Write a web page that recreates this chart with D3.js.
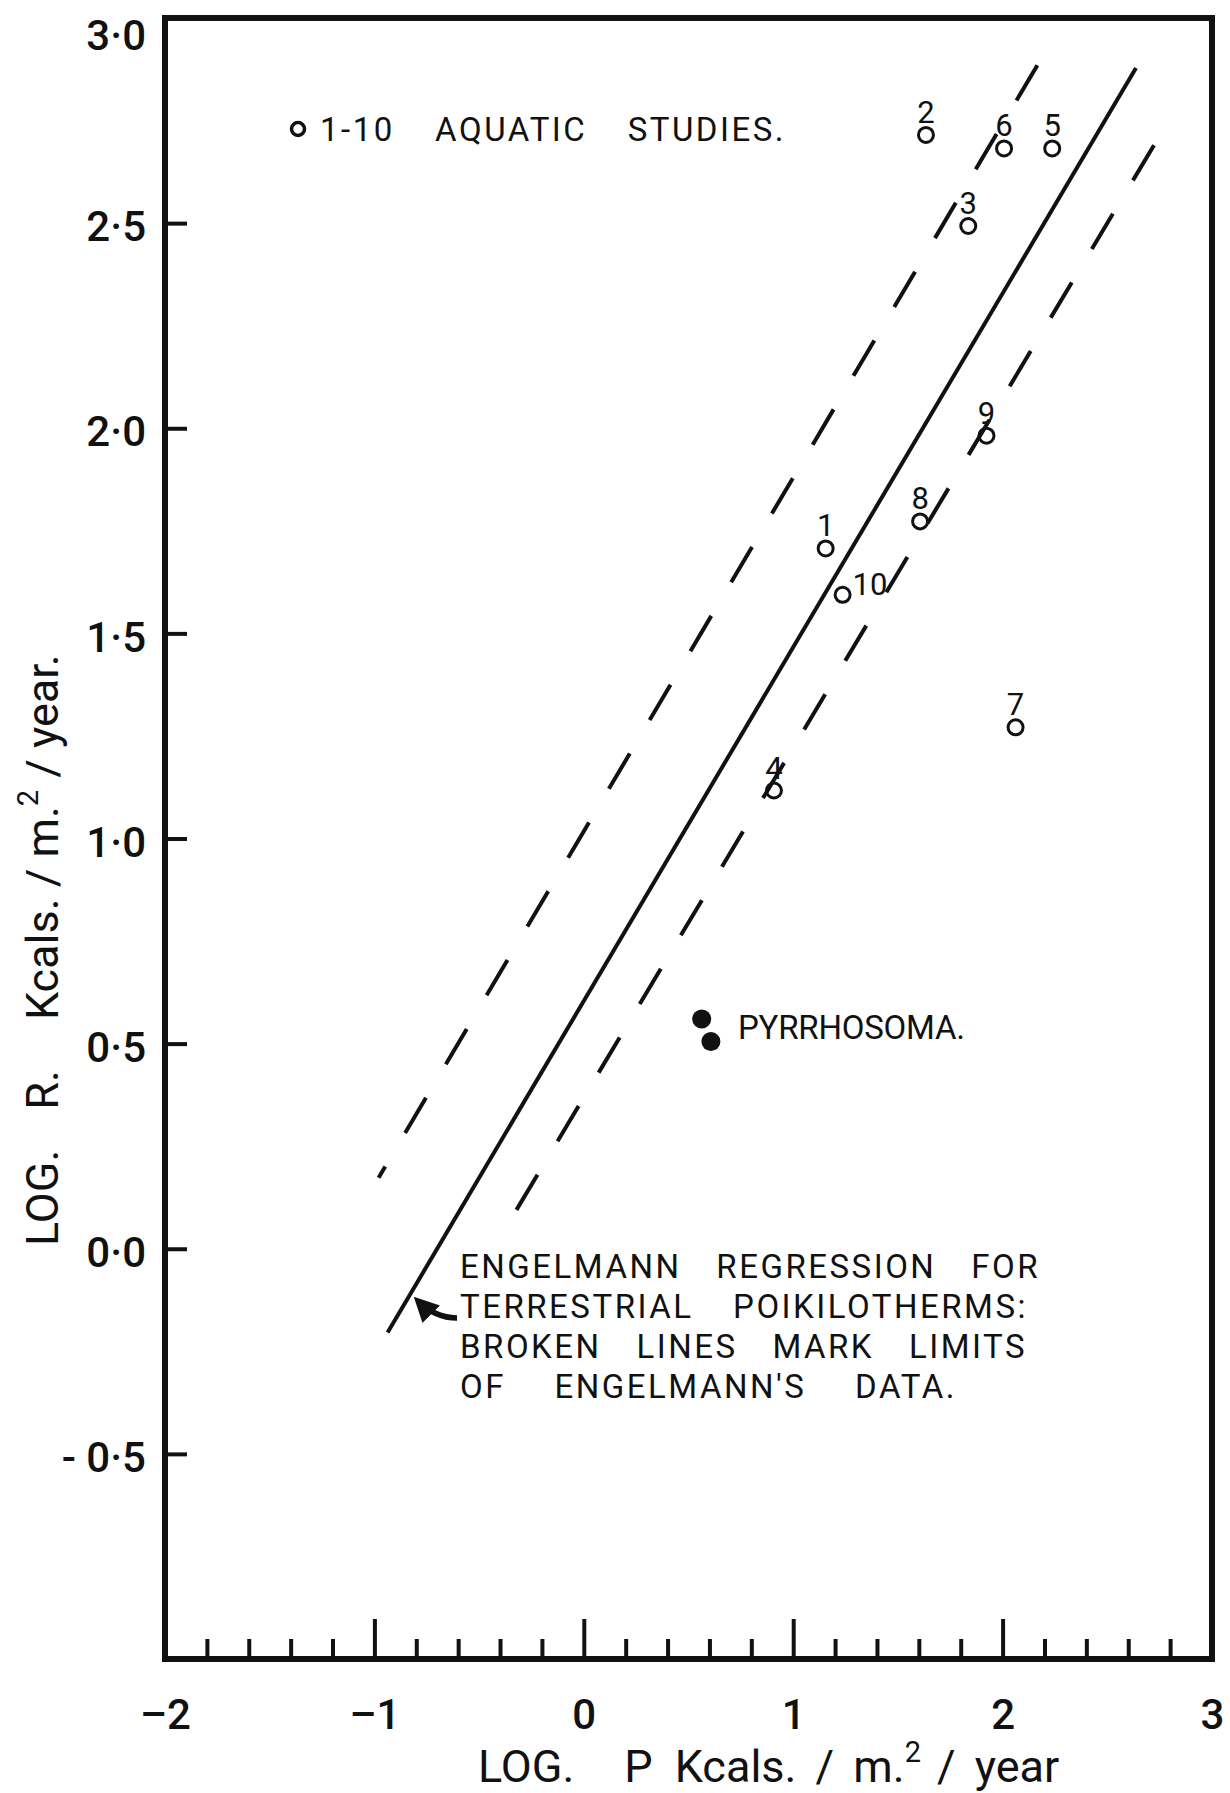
<!DOCTYPE html>
<html>
<head>
<meta charset="utf-8">
<script src="https://cdn.jsdelivr.net/npm/d3@7"></script>
<style>
  body { margin: 0; background: #fff; }
  svg text { font-family: Roboto, "DejaVu Sans", sans-serif; fill: #111; }
</style>
</head>
<body>
<div id="chart"></div>
<script>
// aquatic studies 1-10 (log P, log R in Kcals / m2 / year)
const studyIds = [1, 2, 3, 4, 5, 6, 7, 8, 9, 10];
const studyLogP = [1.155, 1.634, 1.836, 0.908, 2.237, 2.007, 2.062, 1.606, 1.923, 1.236];
const studyLogR = [1.707, 2.715, 2.493, 1.117, 2.682, 2.682, 1.271, 1.773, 1.982, 1.594];

// Pyrrhosoma
const pyrrhosomaLogP = [0.563, 0.607];
const pyrrhosomaLogR = [0.560, 0.505];

// Engelmann regression + limits of his data, end points [logP, logR]
const regressionLine = [[-0.937, -0.204], [2.637, 2.878]];
const upperLimit = [[-0.98, 0.173], [2.166, 2.885]];
const lowerLimit = [[-0.414, 0.016], [2.723, 2.690]];

const xTicks = [-2, -1, 0, 1, 2, 3];
const yTicks = [-0.5, 0, 0.5, 1, 1.5, 2, 2.5, 3];

const legendWords = ["1-10", "AQUATIC", "STUDIES."];
const noteLines = [
    ["ENGELMANN", "REGRESSION", "FOR"],
    ["TERRESTRIAL", "POIKILOTHERMS:"],
    ["BROKEN", "LINES", "MARK", "LIMITS"],
    ["OF", "ENGELMANN'S", "DATA."]
];

const width = 1230, height = 1793;
const ink = "#111";

const svg = d3.select("#chart").append("svg")
    .attr("width", width)
    .attr("height", height)
    .style("background", "#fff");

const x = d3.scaleLinear().domain([-2, 3]).range([165, 1212]);
const y = d3.scaleLinear().domain([-1, 3]).range([1659, 18]);

// axes
const minorTicks = x.ticks(25).filter(d => Math.abs(d - Math.round(d)) > 1e-6);

const xMinor = svg.append("g")
    .attr("transform", `translate(0,${y(-1)})`)
    .call(d3.axisBottom(x).tickValues(minorTicks).tickSize(-20).tickFormat(""));

const xMajor = svg.append("g")
    .attr("transform", `translate(0,${y(-1)})`)
    .call(d3.axisBottom(x).tickValues(xTicks).tickSize(-40).tickPadding(40)
        .tickFormat(d => d < 0 ? "\u2013" + Math.abs(d) : d));

const fmtY = v => {
    const s = Math.abs(v).toFixed(1).replace(".", "\u00b7");
    return v < 0 ? "- " + s : s;
};
const yAxis = svg.append("g")
    .attr("transform", `translate(${x(-2)},0)`)
    .call(d3.axisLeft(y).tickValues(yTicks).tickSize(-22).tickPadding(19).tickFormat(fmtY));

[xMinor, xMajor, yAxis].forEach(g => {
    g.select(".domain").remove();
    g.selectAll(".tick line").attr("stroke", ink).attr("stroke-width", 4);
    g.selectAll(".tick text")
        .attr("fill", ink)
        .style("font-family", "Roboto, sans-serif")
        .style("font-size", "42px")
        .style("font-weight", 500);
});
yAxis.selectAll(".tick text").attr("dy", d => d === 3 ? "0.75em" : "0.42em");

// frame
svg.append("rect")
    .attr("x", x(-2))
    .attr("y", y(3))
    .attr("width", x(3) - x(-2))
    .attr("height", y(-1) - y(3))
    .attr("fill", "none")
    .attr("stroke", ink)
    .attr("stroke-width", 6);

// regression lines
const line = d3.line().x(d => x(d[0])).y(d => y(d[1]));

svg.append("path")
    .attr("d", line(regressionLine))
    .attr("fill", "none")
    .attr("stroke", ink)
    .attr("stroke-width", 4);

[upperLimit, lowerLimit].forEach(pts => {
    // draw from the top end so the dash pattern starts there
    svg.append("path")
        .attr("d", line(pts.slice().reverse()))
        .attr("fill", "none")
        .attr("stroke", ink)
        .attr("stroke-width", 4)
        .attr("stroke-dasharray", "41,39");
});

// aquatic study points
const studies = studyIds.map((id, i) => ({ id: id, p: studyLogP[i], r: studyLogR[i] }));

svg.append("g").selectAll("circle")
    .data(studies)
    .enter().append("circle")
    .attr("cx", d => x(d.p))
    .attr("cy", d => y(d.r))
    .attr("r", 7.5)
    .attr("fill", "none")
    .attr("stroke", ink)
    .attr("stroke-width", 3);

svg.append("g").selectAll("text")
    .data(studies)
    .enter().append("text")
    .attr("x", d => d.id === 10 ? x(d.p) + 10 : x(d.p))
    .attr("y", d => d.id === 10 ? y(d.r) + 0 : y(d.r) - 12)
    .attr("text-anchor", d => d.id === 10 ? "start" : "middle")
    .style("font-size", "31px")
    .text(d => d.id);

// pyrrhosoma points
svg.append("g").selectAll("circle")
    .data(pyrrhosomaLogP.map((p, i) => ({ p: p, r: pyrrhosomaLogR[i] })))
    .enter().append("circle")
    .attr("cx", d => x(d.p))
    .attr("cy", d => y(d.r))
    .attr("r", 9.5)
    .attr("fill", ink);

svg.append("text")
    .attr("x", 738)
    .attr("y", 1039)
    .style("font-size", "33px")
    .attr("textLength", 227)
    .attr("lengthAdjust", "spacing")
    .text("PYRRHOSOMA.");

// spread words of a line evenly between x0 and x1
function justified(words, x0, x1, yy, size) {
    const g = svg.append("g");
    const texts = words.map(w => g.append("text")
        .attr("y", yy)
        .style("font-size", size + "px")
        .style("letter-spacing", "2.5px")
        .text(w));
    const widths = texts.map(t => t.node().getComputedTextLength());
    const gap = (x1 - x0 - d3.sum(widths)) / Math.max(words.length - 1, 1);
    let cur = x0;
    texts.forEach((t, i) => {
        t.attr("x", cur);
        cur += widths[i] + gap;
    });
}

// legend
svg.append("circle")
    .attr("cx", 298)
    .attr("cy", 129)
    .attr("r", 6.5)
    .attr("fill", "none")
    .attr("stroke", ink)
    .attr("stroke-width", 3.5);
justified(legendWords, 320, 786, 141, 33);

// note
const noteEnds = [1040, 1028, 1027, 957];
noteLines.forEach((words, i) => justified(words, 460, noteEnds[i], 1278 + i * 40, 33));

// curved arrow pointing at the regression line
svg.append("defs").append("marker")
    .attr("id", "head")
    .attr("viewBox", "0 0 10 10")
    .attr("refX", 7)
    .attr("refY", 5)
    .attr("markerWidth", 4.5)
    .attr("markerHeight", 4.5)
    .attr("orient", "auto")
    .append("path")
    .attr("d", "M0,0 L10,5 L0,10 Z")
    .attr("fill", ink);

svg.append("path")
    .attr("d", "M457,1318 C442,1318 428,1311 419,1302")
    .attr("fill", "none")
    .attr("stroke", ink)
    .attr("stroke-width", 5.5)
    .attr("marker-end", "url(#head)");

// axis titles
const xTitle = svg.append("text")
    .attr("x", 478)
    .attr("y", 1782)
    .style("font-size", "45px")
    .style("word-spacing", "8px");
xTitle.append("tspan").text("LOG.");
xTitle.append("tspan").attr("dx", 50).text("P");
xTitle.append("tspan").attr("dx", 22).text("Kcals. / m.");
xTitle.append("tspan").attr("dy", -20).style("font-size", "29px").text("2");
xTitle.append("tspan").attr("dy", 20).attr("dx", 16).text("/ year");

const yTitle = svg.append("text")
    .attr("transform", "translate(58,1246) rotate(-90)")
    .style("font-size", "45px");
yTitle.append("tspan").text("LOG.");
yTitle.append("tspan").attr("dx", 40).text("R.");
yTitle.append("tspan").attr("dx", 50).text("Kcals. / m.");
yTitle.append("tspan").attr("dy", -20).style("font-size", "29px").text("2");
yTitle.append("tspan").attr("dy", 20).attr("dx", 12).text("/ year.");
</script>
</body>
</html>
